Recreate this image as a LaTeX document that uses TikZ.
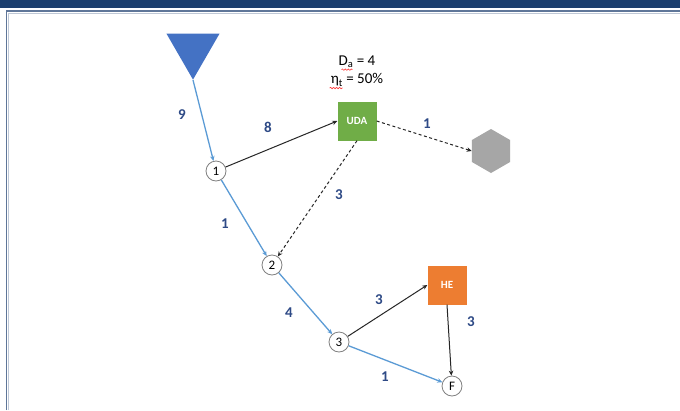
\documentclass[tikz,border=0pt]{standalone}
\usepackage{fontspec}
\setmainfont{Carlito}
\usetikzlibrary{shapes.geometric,arrows.meta,decorations.pathmorphing}
\definecolor{navy}{HTML}{1C3F6E}
\definecolor{framec}{HTML}{5F7699}
\definecolor{flowblue}{HTML}{5B9BD5}
\definecolor{labblue}{HTML}{2E4A86}
\definecolor{srcblue}{HTML}{4472C4}
\definecolor{udagreen}{HTML}{70AD47}
\definecolor{heorange}{HTML}{ED7D31}
\definecolor{sinkgray}{HTML}{A6A6A6}
\tikzset{
  junction/.style={circle,draw=black!50,line width=0.8pt,fill=white,minimum size=20pt,inner sep=0pt,font=\fontsize{13}{13}\selectfont},
  unitbox/.style={rectangle,minimum size=39pt,inner sep=0pt,text=white,font=\bfseries\fontsize{11}{11}\selectfont},
  flowarrow/.style={draw=flowblue,line width=1.3pt,-{Stealth[length=5pt,width=4.5pt]}},
  solidarrow/.style={draw=black!85,line width=1pt,-{Stealth[length=5pt,width=4.5pt]}},
  dasharrow/.style={draw=black!85,line width=1pt,dash pattern=on 3pt off 2.5pt,-{Stealth[length=5pt,width=4.5pt]}},
  qty/.style={text=labblue,font=\bfseries\fontsize{15}{15}\selectfont},
  spell/.style={draw=red!80,line width=0.6pt,decorate,decoration={snake,amplitude=0.7pt,segment length=3pt}},
}
\begin{document}
\begin{tikzpicture}[x=1pt,y=-1pt]
\useasboundingbox (0,0) rectangle (680,410);
\fill[white] (0,0) rectangle (680,410);
% header band and frame
\fill[navy] (0,0) rectangle (680,8);
\draw[framec,line width=1.8pt] (6.5,410) -- (6.5,11) -- (680,11);
\draw[framec!40,line width=0.6pt] (8.6,410) -- (8.6,13.2) -- (680,13.2);

% source, units and sink
\node[isosceles triangle,isosceles triangle apex angle=60,shape border rotate=-90,
      fill=srcblue,minimum height=46pt,inner sep=0pt,anchor=apex] (src) at (193,80) {};
\node[unitbox,fill=udagreen] (uda) at (357,121) {UDA};
\node[unitbox,fill=heorange] (he) at (447,285) {HE};
\node[regular polygon,regular polygon sides=6,shape border rotate=90,fill=sinkgray,
      minimum size=44pt,inner sep=0pt] (sink) at (491,151) {};

% junctions
\node[junction] (n1) at (216,171) {1};
\node[junction] (n2) at (272,265) {2};
\node[junction] (n3) at (339,342) {3};
\node[junction] (nf) at (452,386) {F};

% unit data
\node[font=\fontsize{15}{15}\selectfont,inner sep=1pt] (da) at (357,62) {D\textsubscript{a} = 4};
\node[font=\fontsize{15}{15}\selectfont,inner sep=1pt] (eta) at (357,80) {η\textsubscript{t} = 50\%};
\draw[spell] ([xshift=4pt,yshift=-0.5pt]da.south west) -- ++(11,0);
\draw[spell] ([xshift=0pt,yshift=-0.5pt]eta.south west) -- ++(13,0);

% connectors
\draw[flowarrow] (src.apex) -- (n1);
\draw[flowarrow] (n1) -- (n2);
\draw[flowarrow] (n2) -- (n3);
\draw[flowarrow] (n3) -- (nf);
\draw[solidarrow] (n1) -- (uda.west);
\draw[solidarrow] (n3) -- (he.west);
\draw[solidarrow] (he.south) -- (nf);
\draw[dasharrow] (uda.east) -- (sink.west);
\draw[dasharrow] (uda.south) -- (n2);

% quantities
\node[qty] (q9) at (182,115) {9};
\node[qty] (q8) at (268,127) {8};
\node[qty] (q1a) at (427,124) {1};
\node[qty] (q3a) at (339,195) {3};
\node[qty] (q1b) at (225,224) {1};
\node[qty] (q4) at (289,313) {4};
\node[qty] (q3b) at (379,300) {3};
\node[qty] (q3c) at (471,322) {3};
\node[qty] (q1c) at (385,377) {1};
\end{tikzpicture}
\end{document}
